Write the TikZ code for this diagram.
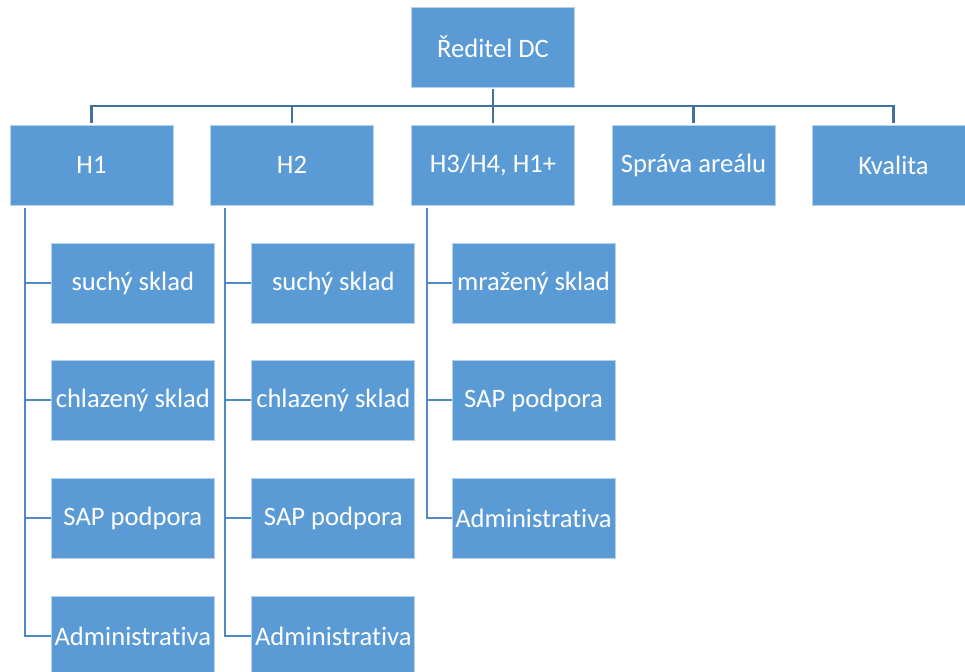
\documentclass[tikz,border=0pt]{standalone}
\usepackage{fontspec}
\setmainfont[Ligatures=NoCommon]{Carlito}
\definecolor{boxblue}{HTML}{5B9BD5}
\definecolor{busblue}{HTML}{41719C}
\definecolor{linkblue}{HTML}{5089C6}
\begin{document}
\begin{tikzpicture}[x=1pt,y=1pt,
  unit/.style={rectangle, fill=boxblue, draw=white!55!boxblue, line width=0.8pt,
    minimum width=163pt, minimum height=80pt, inner sep=0pt,
    text=white, font=\fontsize{26.6}{30}\selectfont},
  bus/.style={draw=busblue, line width=2.2pt},
  link/.style={draw=linkblue, line width=2pt}]
\useasboundingbox (0,0) rectangle (965,-671);
\begin{scope}
\clip (0,0) rectangle (965,-671);

% top of the hierarchy
\node[unit] (dir) at (493,-47) {Ředitel DC};

% second level
\node[unit] (h1) at (91.5,-165) {H1};
\node[unit] (h2) at (292,-165) {H2};
\node[unit] (h3) at (493,-165) {H3/H4, H1+};
\node[unit] (sa) at (693.5,-165) {Správa areálu};
\node[unit] (kv) at (893.5,-165) {Kvalita};

% departments under H1
\node[unit] (a1) at (132.8,-283) {suchý sklad};
\node[unit] (a2) at (132.8,-400) {chlazený sklad};
\node[unit] (a3) at (132.8,-518) {SAP podpora};
\node[unit] (a4) at (132.8,-636) {Administrativa};

% departments under H2
\node[unit] (b1) at (333.3,-283) {suchý sklad};
\node[unit] (b2) at (333.3,-400) {chlazený sklad};
\node[unit] (b3) at (333.3,-518) {SAP podpora};
\node[unit] (b4) at (333.3,-636) {Administrativa};

% departments under H3/H4, H1+
\node[unit] (c1) at (533.5,-283) {mražený sklad};
\node[unit] (c2) at (533.5,-400) {SAP podpora};
\node[unit] (c3) at (533.5,-518) {Administrativa};
\end{scope}

% bus from the director to the second level
\coordinate (busy) at (0,-106);
\draw[bus, line cap=rect] (h1.north |- busy) -- (kv.north |- busy);
\foreach \n in {h1,h2,h3,sa,kv}
  \draw[bus] (\n.north |- busy) -- ([yshift=2pt]\n.north);
\draw[bus] ([yshift=-2pt]dir.south) -- (dir.south |- busy);

% branch spines on the left side of each unit
\coordinate (s1) at ([xshift=15pt]h1.south west);
\coordinate (s2) at ([xshift=15pt]h2.south west);
\coordinate (s3) at ([xshift=16pt]h3.south west);
\draw[link] ([yshift=-3pt]s1) |- (a4.west);
\foreach \n in {a1,a2,a3} \draw[link] (s1 |- \n.west) -- (\n.west);
\draw[link] ([yshift=-3pt]s2) |- (b4.west);
\foreach \n in {b1,b2,b3} \draw[link] (s2 |- \n.west) -- (\n.west);
\draw[link] ([yshift=-3pt]s3) |- (c3.west);
\foreach \n in {c1,c2} \draw[link] (s3 |- \n.west) -- (\n.west);
\end{tikzpicture}
\end{document}
